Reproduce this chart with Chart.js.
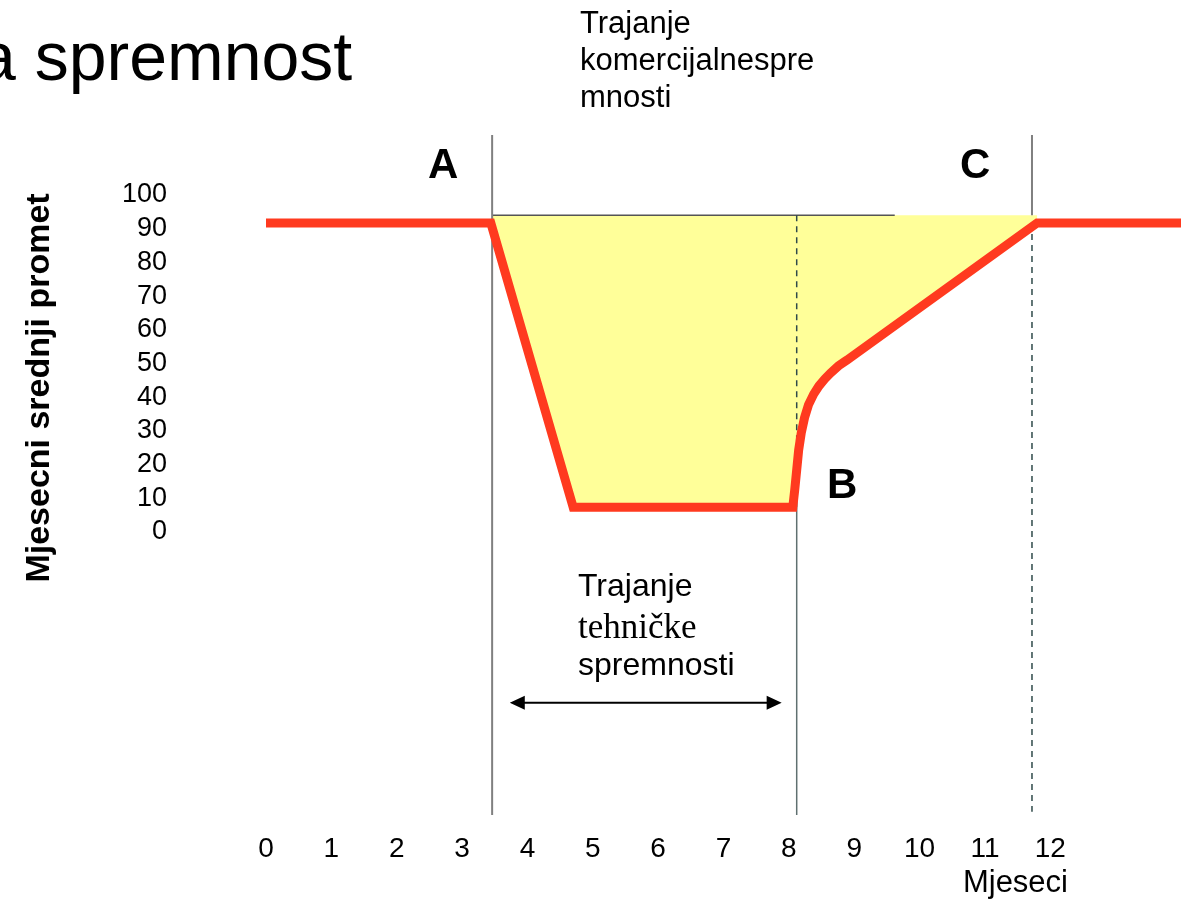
<!DOCTYPE html>
<html>
<head>
<meta charset="utf-8">
<script src="https://cdn.jsdelivr.net/npm/chart.js@4.4.1/dist/chart.umd.min.js"></script>
<style>
html, body { margin: 0; padding: 0; background: #fff; }
#wrap { width: 1182px; height: 901px; position: relative; }
</style>
</head>
<body>
<div id="wrap"><canvas id="chart"></canvas></div>
<script>
// red curve: month -> monthly average turnover
const curveMonths = [0, 3.44, 4.70, 8.06, 8.09, 8.12, 8.15, 8.19, 8.24, 8.30, 8.38, 8.46, 8.55, 8.64, 8.76, 8.89, 11.80, 14];
const curveValues = [91.7, 91.7, 7.3, 7.3, 12.5, 18.4, 24.3, 29.4, 33.9, 37.7, 40.9, 43.3, 45.4, 47.2, 49.3, 51.0, 91.7, 91.7];

// upper edge of the yellow (lost turnover) area
const shadeMonths = [3.46, 11.80];
const shadeValues = [94, 94];

// short grey line on the top edge
const refMonths = [3.46, 9.62];
const refValues = [94, 94];

// vertical markers A, B, C
const markA = 3.46;
const markB = 8.12;
const markC = 11.72;

const xTicks = [0, 1, 2, 3, 4, 5, 6, 7, 8, 9, 10, 11, 12];
const yTicks = [0, 10, 20, 30, 40, 50, 60, 70, 80, 90, 100];

// double arrow under the dip
const arrowMonths = [3.73, 7.89];
const arrowValue = -50.7;

const yTop = 117.8;
const yBottom = -84;

const pts = (xs, ys) => xs.map((x, i) => ({x: x, y: ys[i]}));
const vline = (x, y0, y1) => [{x: x, y: y0}, {x: x, y: y1}];

const SANS = '"Liberation Sans", Arial, Helvetica, sans-serif';
const SERIF = '"Liberation Serif", "Times New Roman", serif';

const textPlugin = {
    id: "texts",
    afterDraw(chart) {
        const ctx = chart.ctx;
        const xs = chart.scales.x;
        const ys = chart.scales.y;
        ctx.save();
        ctx.fillStyle = "#000";
        ctx.textBaseline = "alphabetic";
        ctx.textAlign = "left";

        ctx.font = `68px ${SANS}`;
        ctx.fillText("a spremnost", -22, 80);

        ctx.font = `31px ${SANS}`;
        ctx.fillText("Trajanje", 580, 33);
        ctx.fillText("komercijalnespre", 580, 70);
        ctx.fillText("mnosti", 580, 107);

        ctx.font = `bold 42px ${SANS}`;
        ctx.fillText("A", 428, 178);
        ctx.fillText("C", 960, 178);
        ctx.fillText("B", 827, 498);

        ctx.font = `32px ${SANS}`;
        ctx.fillText("Trajanje", 578, 596);
        ctx.font = `35px ${SERIF}`;
        ctx.fillText("tehničke", 578, 638);
        ctx.font = `32px ${SANS}`;
        ctx.fillText("spremnosti", 578, 675);

        // double arrow
        const ax0 = xs.getPixelForValue(arrowMonths[0]);
        const ax1 = xs.getPixelForValue(arrowMonths[1]);
        const ay = ys.getPixelForValue(arrowValue);
        ctx.strokeStyle = "#000";
        ctx.lineWidth = 2;
        ctx.beginPath();
        ctx.moveTo(ax0 + 10, ay);
        ctx.lineTo(ax1 - 10, ay);
        ctx.stroke();
        ctx.beginPath();
        ctx.moveTo(ax0, ay);
        ctx.lineTo(ax0 + 15, ay - 7);
        ctx.lineTo(ax0 + 15, ay + 7);
        ctx.closePath();
        ctx.moveTo(ax1, ay);
        ctx.lineTo(ax1 - 15, ay - 7);
        ctx.lineTo(ax1 - 15, ay + 7);
        ctx.closePath();
        ctx.fill();

        // axis titles
        ctx.font = `31px ${SANS}`;
        ctx.textAlign = "right";
        ctx.fillText("Mjeseci", 1068, 892);

        ctx.save();
        ctx.translate(49, 388);
        ctx.rotate(-Math.PI / 2);
        ctx.textAlign = "center";
        ctx.font = `bold 34px ${SANS}`;
        ctx.fillText("Mjesecni srednji promet", 0, 0);
        ctx.restore();

        ctx.restore();
    }
};

const lineDefaults = {pointRadius: 0, fill: false, tension: 0};

new Chart(document.getElementById("chart"), {
    type: "line",
    data: {
        datasets: [
            {...lineDefaults, data: pts(curveMonths, curveValues), borderColor: "#FF3A1F", borderWidth: 9, borderJoinStyle: "miter"},
            {...lineDefaults, data: vline(markA, yTop, yBottom), borderColor: "#808080", borderWidth: 2},
            {...lineDefaults, data: vline(markB, 94, 7.3), borderColor: "#2F4A4A", borderWidth: 1.5, borderDash: [6, 5]},
            {...lineDefaults, data: vline(markB, 7.3, yBottom), borderColor: "#5F7070", borderWidth: 1.5},
            {...lineDefaults, data: vline(markC, yTop, 94), borderColor: "#808080", borderWidth: 2},
            {...lineDefaults, data: vline(markC, 91.7, -83), borderColor: "#2F4A4A", borderWidth: 1.5, borderDash: [6, 5]},
            {...lineDefaults, data: pts(refMonths, refValues), borderColor: "#555", borderWidth: 1.5},
            {...lineDefaults, data: pts(shadeMonths, shadeValues), borderWidth: 0, borderColor: "rgba(0,0,0,0)",
                backgroundColor: "#FFFF99", fill: {target: 0}}
        ]
    },
    options: {
        responsive: true,
        maintainAspectRatio: false,
        animation: false,
        layout: {padding: {top: 135, right: 1, left: 0, bottom: 0}},
        plugins: {legend: {display: false}, tooltip: {enabled: false}},
        scales: {
            x: {
                type: "linear",
                min: 0,
                max: 14,
                grid: {display: false, drawTicks: false},
                border: {display: false},
                afterBuildTicks: s => { s.ticks = xTicks.map(v => ({value: v})); },
                afterFit: s => { s.height = 86; },
                ticks: {color: "#000", font: {size: 28, family: SANS}, padding: 17, maxRotation: 0, autoSkip: false}
            },
            y: {
                type: "linear",
                min: yBottom,
                max: yTop,
                grid: {display: false, drawTicks: false},
                border: {display: false},
                afterBuildTicks: s => { s.ticks = yTicks.map(v => ({value: v})); },
                afterFit: s => { s.width = 266; s.paddingTop = 0; s.paddingBottom = 0; },
                ticks: {color: "#000", font: {size: 27, family: SANS}, padding: 99, autoSkip: false}
            }
        }
    },
    plugins: [textPlugin]
});
</script>
</body>
</html>
